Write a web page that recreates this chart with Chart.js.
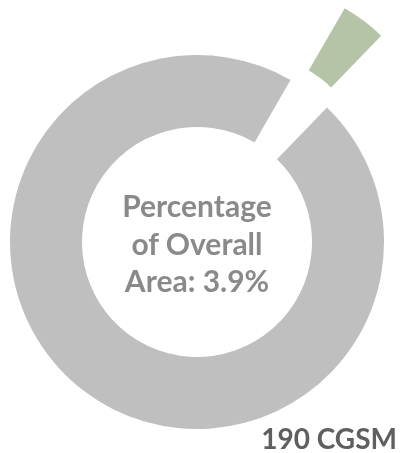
<!DOCTYPE html>
<html>
<head>
<meta charset="utf-8">
<script src="https://cdn.jsdelivr.net/npm/chart.js@4.4.1/dist/chart.umd.min.js"></script>
<style>
  html, body { margin: 0; padding: 0; background: #ffffff; }
  body { width: 400px; height: 453px; position: relative; overflow: hidden; }
  #c { position: absolute; left: 0; top: 0; }
  .center {
    position: absolute; left: 97px; width: 200px; text-align: center;
    font-family: Lato, "Open Sans", sans-serif; font-weight: 700;
    font-size: 30px; color: #8a8a8a; line-height: 37.5px; top: 187px;
  }
  .tag {
    position: absolute; right: 3px; top: 421px;
    font-family: Lato, "Open Sans", sans-serif; font-weight: 700;
    font-size: 28px; color: #5f5f5f; white-space: nowrap;
  }
</style>
</head>
<body>
<canvas id="c" width="400" height="453"></canvas>
<div class="center">Percentage<br>of Overall<br>Area: 3.9%</div>
<div class="tag">190 CGSM</div>
<script>
// Share of the overall area held by the site, and the remainder
const categories = ['190 CGSM', 'Remaining area'];
const shareValues = [3.9, 96.1];
const sliceColors = ['#b5c4a6', '#bfbfbf'];
// how far each slice is pulled out from the centre, in pixels
const explodeDistances = [90, 0];

// Pulls a slice straight out along its bisector (a plain translation,
// so the slice keeps its own radii and shape).
const explodePlugin = {
  id: 'explodeSlices',
  afterDatasetUpdate(chart, args) {
    args.meta.data.forEach((arc, i) => {
      const dist = explodeDistances[i] || 0;
      if (!dist || arc.$exploded) return;
      const baseDraw = Object.getPrototypeOf(arc).draw;
      arc.draw = function (ctx) {
        const mid = (this.startAngle + this.endAngle) / 2;
        ctx.save();
        ctx.translate(Math.cos(mid) * dist, Math.sin(mid) * dist);
        baseDraw.call(this, ctx);
        ctx.restore();
      };
      arc.$exploded = true;
    });
  }
};

new Chart(document.getElementById('c'), {
  type: 'doughnut',
  data: {
    labels: categories,
    datasets: [{
      data: shareValues,
      backgroundColor: sliceColors,
      hoverOffset: 0,
      borderWidth: 0,
      clip: false
    }]
  },
  options: {
    responsive: false,
    animation: false,
    events: [],
    rotation: 30,
    cutout: '61.5%',
    layout: { padding: { left: 10, right: 16, top: 55, bottom: 24 } },
    plugins: { legend: { display: false }, tooltip: { enabled: false } }
  },
  plugins: [explodePlugin]
});
</script>
</body>
</html>
